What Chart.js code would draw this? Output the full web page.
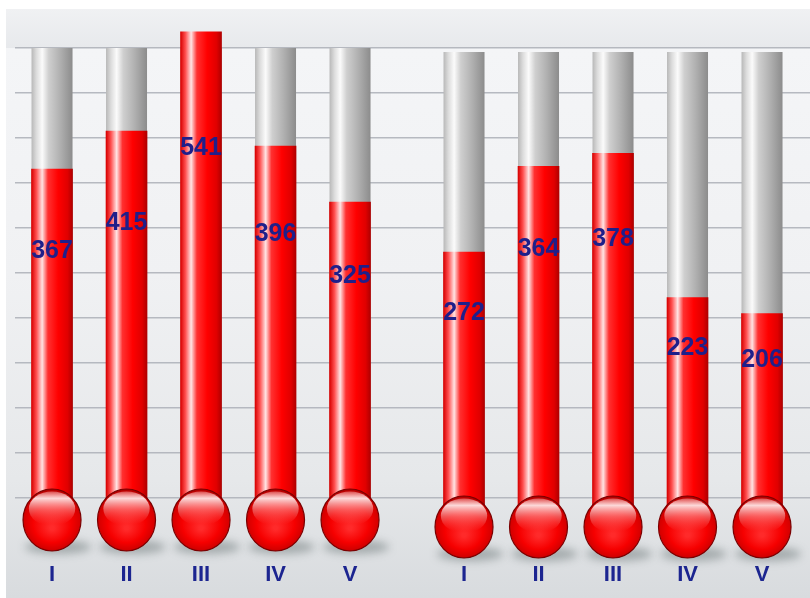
<!DOCTYPE html>
<html>
<head>
<meta charset="utf-8">
<title>Termômetros</title>
<script src="https://cdn.jsdelivr.net/npm/chart.js@4.4.1/dist/chart.umd.min.js"></script>
<style>
    html, body { margin: 0; padding: 0; background: #ffffff; }
    #grafico { display: block; }
</style>
</head>
<body>
<canvas id="grafico" width="810" height="598"></canvas>
<script>
// ✅ Dados
const categorias = ["I", "II", "III", "IV", "V"];
const valoresGrupo1 = [367, 415, 541, 396, 325];
const valoresGrupo2 = [272, 364, 378, 223, 206];

// ✅ Layout (posições e escalas, fora dos dados)
const deslocamentoGrupo2 = 5.53;
const escalaX = { min: -0.497, max: 10.174 };
const escalaGrupo1 = { min: -50.8, max: 520.6, base: -80 };
const escalaGrupo2 = { min: 7.8, max: 491.2, base: -20 };
const larguraTubo = 41;
const alturaEixoX = 90.2;
const fonteNumeros = "'Liberation Sans Narrow', 'Liberation Sans', Arial, sans-serif";

// Gradiente horizontal de um tubo
function gradienteTubo(ctx, x, cores) {
    const g = ctx.createLinearGradient(x - larguraTubo / 2, 0, x + larguraTubo / 2, 0);
    cores.forEach(([pos, cor]) => g.addColorStop(pos, cor));
    return g;
}

const coresVermelho = [
    [0, "#d80000"], [0.12, "#ff5050"], [0.26, "#ffe4e4"], [0.40, "#ff3030"],
    [0.65, "#ff0000"], [0.88, "#e00000"], [1, "#b00000"]
];
const coresCinza = [
    [0, "#b8b8b8"], [0.12, "#dcdcdc"], [0.26, "#fbfbfb"], [0.42, "#cfcfcf"],
    [0.7, "#b0b0b0"], [1, "#8c8c8c"]
];

function corBarra(contexto) {
    const chart = contexto.chart;
    if (!contexto.raw || !chart.scales.x) return "#ff0000";
    const x = chart.scales.x.getPixelForValue(contexto.raw.x);
    if (!isFinite(x)) return "#ff0000";
    return gradienteTubo(chart.ctx, x, coresVermelho);
}

// ✅ Fundo da imagem
const pluginFundo = {
    id: "fundo",
    beforeDraw(chart) {
        const { ctx, width, height, chartArea } = chart;
        ctx.save();
        ctx.fillStyle = "#ffffff";
        ctx.fillRect(0, 0, width, height);
        const g = ctx.createLinearGradient(0, 9, 0, height);
        g.addColorStop(0, "#eceef0");
        g.addColorStop(0.07, "#f4f5f7");
        g.addColorStop(0.45, "#f0f1f3");
        g.addColorStop(0.8, "#e6e8ea");
        g.addColorStop(1, "#d8dbde");
        ctx.fillStyle = g;
        ctx.fillRect(6, 9, width - 6, height - 9);
        const faixa = ctx.createLinearGradient(0, 9, 0, chartArea.top);
        faixa.addColorStop(0, "#f0f1f3");
        faixa.addColorStop(1, "#e7e9ec");
        ctx.fillStyle = faixa;
        ctx.fillRect(6, 9, width - 6, chartArea.top - 9);
        ctx.restore();
    }
};

// ✅ Tubos cinza, bulbos e rótulos
function centrosTubos(chart) {
    const x = chart.scales.x;
    const lista = [];
    categorias.forEach((c, i) => lista.push({ x: x.getPixelForValue(i), grupo: 0, i }));
    categorias.forEach((c, i) => lista.push({ x: x.getPixelForValue(i + deslocamentoGrupo2), grupo: 1, i }));
    return lista;
}

function desenharBulbo(ctx, cx, cy) {
    const rx = 29, ry = 31;
    // sombra
    ctx.save();
    ctx.filter = "blur(4px)";
    ctx.fillStyle = "rgba(70, 85, 85, 0.38)";
    ctx.beginPath();
    ctx.ellipse(cx + 6, cy + ry - 4, rx + 4, 7, 0, 0, Math.PI * 2);
    ctx.fill();
    ctx.restore();

    // corpo
    ctx.save();
    const g = ctx.createRadialGradient(cx, cy + 8, 2, cx, cy, ry + 2);
    g.addColorStop(0, "#ff2a2a");
    g.addColorStop(0.55, "#f60000");
    g.addColorStop(0.85, "#d40000");
    g.addColorStop(1, "#8c0000");
    ctx.fillStyle = g;
    ctx.beginPath();
    ctx.ellipse(cx, cy, rx, ry, 0, 0, Math.PI * 2);
    ctx.fill();
    ctx.lineWidth = 1.2;
    ctx.strokeStyle = "#7a0000";
    ctx.stroke();

    // brilho
    const b = ctx.createLinearGradient(0, cy - ry + 3, 0, cy + 4);
    b.addColorStop(0, "rgba(255,255,255,0.35)");
    b.addColorStop(0.2, "rgba(255,240,240,0.9)");
    b.addColorStop(0.55, "rgba(255,190,190,0.45)");
    b.addColorStop(1, "rgba(255,120,120,0.0)");
    ctx.fillStyle = b;
    ctx.beginPath();
    ctx.ellipse(cx, cy - ry * 0.36, rx * 0.8, ry * 0.56, 0, 0, Math.PI * 2);
    ctx.fill();
    ctx.restore();
}

const pluginTermometro = {
    id: "termometro",
    beforeDatasetsDraw(chart) {
        const { ctx, chartArea } = chart;
        ctx.save();
        centrosTubos(chart).forEach(t => {
            const topo = chartArea.top + (t.grupo === 0 ? 0 : 4);
            const fundo = chartArea.bottom + 24;
            ctx.fillStyle = gradienteTubo(ctx, t.x, coresCinza);
            ctx.fillRect(t.x - larguraTubo / 2, topo, larguraTubo, fundo - topo);
        });
        ctx.restore();
    },
    afterDatasetsDraw(chart) {
        const { ctx, chartArea } = chart;
        centrosTubos(chart).forEach(t => {
            const cy = chartArea.bottom + (t.grupo === 0 ? 22 : 29);
            desenharBulbo(ctx, t.x, cy);
        });

        // valores dentro dos tubos
        ctx.save();
        ctx.font = "bold 25px " + fonteNumeros;
        ctx.fillStyle = "#1f1f8a";
        ctx.textAlign = "center";
        ctx.textBaseline = "middle";
        chart.data.datasets.forEach((ds, d) => {
            const meta = chart.getDatasetMeta(d);
            meta.data.forEach((barra, i) => {
                const topo = barra.y;
                const y = topo + 0.25 * (chartArea.bottom - topo);
                ctx.fillText(String(ds.data[i].y), barra.x, y);
            });
        });
        ctx.restore();
    }
};

function montarDataset(rotulo, valores, deslocamento, eixo, base) {
    return {
        label: rotulo,
        data: valores.map((v, i) => ({ x: i + deslocamento, y: v })),
        yAxisID: eixo,
        base: base,
        backgroundColor: corBarra,
        borderWidth: 0,
        barThickness: larguraTubo,
        grouped: false,
        clip: false
    };
}

const ctx = document.getElementById("grafico").getContext("2d");
const grafico = new Chart(ctx, {
    type: "bar",
    data: {
        datasets: [
            montarDataset("Grupo 1", valoresGrupo1, 0, "yGrupo1", escalaGrupo1.base),
            montarDataset("Grupo 2", valoresGrupo2, deslocamentoGrupo2, "yGrupo2", escalaGrupo2.base)
        ]
    },
    options: {
        responsive: false,
        animation: false,
        layout: { autoPadding: false, padding: { top: 48, bottom: 9.8, left: 15, right: 0 } },
        plugins: { legend: { display: false }, tooltip: { enabled: false } },
        scales: {
            x: {
                type: "linear",
                offset: false,
                min: escalaX.min,
                max: escalaX.max,
                afterBuildTicks: eixo => {
                    const pos = categorias.map((c, i) => i).concat(categorias.map((c, i) => i + deslocamentoGrupo2));
                    eixo.ticks = pos.map(v => ({ value: v }));
                },
                afterFit: eixo => {
                    eixo.height = alturaEixoX;
                    eixo.paddingLeft = 0;
                    eixo.paddingRight = 0;
                },
                ticks: {
                    autoSkip: false,
                    maxRotation: 0,
                    padding: 64,
                    color: "#1c2590",
                    font: { family: fonteNumeros, size: 22, weight: "bold" },
                    callback: (valor, indice) => categorias[indice % categorias.length]
                },
                grid: { display: false, drawTicks: false },
                border: { display: false }
            },
            grade: {
                position: "left",
                min: 0,
                max: 10,
                afterFit: eixo => { eixo.width = 0; },
                ticks: { display: false, stepSize: 1 },
                grid: { color: "rgba(175, 178, 186, 0.9)", lineWidth: 1.5, drawTicks: false },
                border: { display: false }
            },
            yGrupo1: { display: false, min: escalaGrupo1.min, max: escalaGrupo1.max },
            yGrupo2: { display: false, min: escalaGrupo2.min, max: escalaGrupo2.max }
        }
    },
    plugins: [pluginFundo, pluginTermometro]
});
</script>
</body>
</html>
